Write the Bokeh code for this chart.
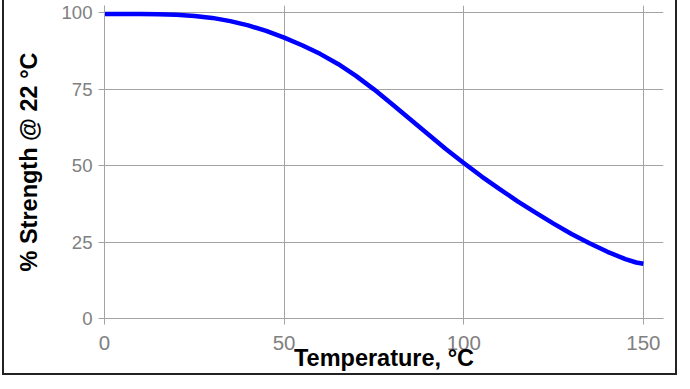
from bokeh.plotting import figure
from bokeh.models import Range1d, FixedTicker
from bokeh.embed import file_html
from bokeh.resources import INLINE

# Data
temperature = [0, 5, 10, 15, 20, 25, 30, 35, 40, 45, 50, 55, 60, 65, 70, 75, 80, 85, 90, 95,
               100, 105, 110, 115, 120, 125, 130, 135, 140, 145, 148, 150]
strength = [99.5, 99.5, 99.5, 99.4, 99.3, 98.9, 98.25, 97.2, 95.8, 94.0, 91.8, 89.3, 86.5, 83.2, 79.3, 74.9,
            70.1, 65.2, 60.3, 55.4, 50.8, 46.4, 42.3, 38.3, 34.6, 31.0, 27.6, 24.6, 21.8, 19.4, 18.3, 17.9]
x_ticks = [0, 50, 100, 150]
y_ticks = [0, 25, 50, 75, 100]
x_title = "Temperature, °C"
y_title = "% Strength @ 22 °C"

FONT = "Liberation Sans"
GRID = "#a3a3a3"
LABEL = "#808080"

p = figure(width=671, height=373, output_backend="svg", toolbar_location=None,
           x_range=Range1d(0, 155.6), y_range=Range1d(0, 102.3),
           min_border_left=100, min_border_right=12, min_border_top=5, min_border_bottom=54,
           styles={"outline": "2px solid #222222", "margin-left": "4px"})
p.outline_line_color = None
p.background_fill_color = "white"
p.border_fill_color = "white"

p.line(temperature, strength, line_color="#0000ff", line_width=4.5)

for ax in (p.xaxis[0], p.yaxis[0]):
    ax.axis_line_color = GRID
    ax.axis_line_width = 1
    ax.major_tick_line_color = GRID
    ax.major_tick_out = 6
    ax.major_tick_in = 0
    ax.minor_tick_line_color = None
    ax.major_label_text_color = LABEL
    ax.major_label_text_font = FONT
    ax.axis_label_text_font = FONT
    ax.axis_label_text_font_style = "bold"
    ax.axis_label_text_color = "black"

p.xaxis[0].ticker = FixedTicker(ticks=x_ticks)
p.yaxis[0].ticker = FixedTicker(ticks=y_ticks)
p.xaxis[0].major_label_text_font_size = "20.5px"
p.yaxis[0].major_label_text_font_size = "18.6px"
p.xaxis[0].major_label_standoff = 11
p.yaxis[0].major_label_standoff = 6
p.xaxis[0].axis_label = x_title
p.yaxis[0].axis_label = y_title
p.xaxis[0].axis_label_text_font_size = "23.5px"
p.yaxis[0].axis_label_text_font_size = "23.5px"
p.xaxis[0].axis_label_standoff = -8
p.yaxis[0].axis_label_standoff = 16

p.xgrid[0].ticker = FixedTicker(ticks=x_ticks)
p.ygrid[0].ticker = FixedTicker(ticks=y_ticks)
p.xgrid.grid_line_color = GRID
p.ygrid.grid_line_color = GRID
p.xgrid.grid_line_width = 1
p.ygrid.grid_line_width = 1

open("out.html", "w").write(file_html(p, INLINE))
